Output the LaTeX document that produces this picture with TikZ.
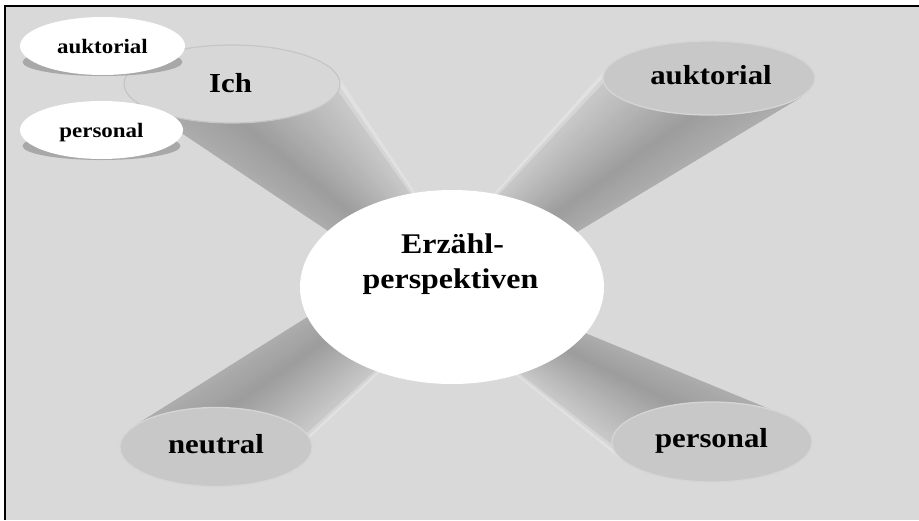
\documentclass[tikz,border=0pt]{standalone}
\usepackage{fontspec}
\newfontfamily\lblfont{Liberation Serif}[FakeStretch=1.12]
\usetikzlibrary{shapes.geometric,calc}

\definecolor{bggray}{RGB}{217,217,217}
\definecolor{discgray}{RGB}{200,200,200}
\definecolor{discrim}{RGB}{213,213,213}
\definecolor{ichfill}{RGB}{215,215,215}
\definecolor{ichrim}{RGB}{198,198,198}
\definecolor{shadowgray}{RGB}{168,168,168}

\newcommand\tubestrips[4]{%
  \foreach \k in {0,...,39}{
    \pgfmathsetmacro{\sa}{\k/40}
    \pgfmathsetmacro{\sb}{(\k+1)/40}
    \pgfmathsetmacro{\sm}{(\k+0.5)/40}
    \pgfmathtruncatemacro{\gv}{\sm<0.06 ? 232-500*\sm : (\sm<0.65 ? 200-72*(\sm-0.06) : 157+45*(\sm-0.65))}
    \definecolor{stripc}{RGB}{\gv,\gv,\gv}
    \path[fill=stripc,draw=stripc,line width=0.5pt]
      ($(#1)!\sa!(#2)$) -- ($(#1)!\sb!(#2)$) -- ($(#3)!\sb!(#4)$) -- ($(#3)!\sa!(#4)$) -- cycle;
  }}

\tikzset{
  disc/.style={ellipse, inner sep=0pt, fill=discgray, draw=discrim, line width=1.3pt},
  ichdisc/.style={ellipse, inner sep=0pt, fill=ichfill, draw=ichrim, line width=1.2pt},
  centre/.style={ellipse, inner sep=0pt, fill=white},
  smalldisc/.style={ellipse, inner sep=0pt, fill=white},
  smallshadow/.style={ellipse, inner sep=0pt, fill=shadowgray},
  bigtxt/.style={font={\lblfont\bfseries\fontsize{27.5}{33}\selectfont}, inner sep=0pt, anchor=base},
  midtxt/.style={font={\lblfont\bfseries\fontsize{28.5}{34}\selectfont}, inner sep=0pt, anchor=base},
  smalltxt/.style={font={\lblfont\bfseries\fontsize{20.5}{25}\selectfont}, inner sep=0pt, anchor=base}
}

\begin{document}
\begin{tikzpicture}[x=1pt,y=-1pt]
\useasboundingbox (0,0) rectangle (919,520);
\fill[white] (0,0) rectangle (919,520);
\fill[bggray] (5,6) rectangle (919,520);
\draw[line width=2pt] (5,520) -- (5,6) -- (919,6);

% tube end points
\coordinate (t1oa) at (337,75);   \coordinate (t1ob) at (137,103);
\coordinate (t1ia) at (434.5,222); \coordinate (t1ib) at (360,252);
\coordinate (t2oa) at (608,67);   \coordinate (t2ob) at (801,97);
\coordinate (t2ia) at (475,215);  \coordinate (t2ib) at (545,251);
\coordinate (t3oa) at (286,460);  \coordinate (t3ob) at (136,425);
\coordinate (t3ia) at (400,353);  \coordinate (t3ib) at (335,300);
\coordinate (t4oa) at (622,460);  \coordinate (t4ob) at (781,414);
\coordinate (t4ia) at (500,362);  \coordinate (t4ib) at (560,323);

\tubestrips{t1oa}{t1ob}{t1ia}{t1ib}
\tubestrips{t2oa}{t2ob}{t2ia}{t2ib}
\tubestrips{t3oa}{t3ob}{t3ia}{t3ib}
\tubestrips{t4oa}{t4ob}{t4ia}{t4ib}

% outer discs
\node[ichdisc, minimum width=216, minimum height=78] (ich) at (232,84) {};
\node[disc, minimum width=212, minimum height=74] (auk) at (709,78) {};
\node[disc, minimum width=192, minimum height=79] (neu) at (216,447) {};
\node[disc, minimum width=200, minimum height=80] (per) at (712,442) {};

% centre
\node[centre, minimum width=304, minimum height=194] (ctr) at (452,287) {};

% small discs
\node[smallshadow, minimum width=160, minimum height=28] (sauks) at (102.5,62) {};
\node[smalldisc, minimum width=165, minimum height=58] (sauk) at (102.5,46) {};
\node[smallshadow, minimum width=158, minimum height=28] (spers) at (101.5,146) {};
\node[smalldisc, minimum width=163, minimum height=58] (sper) at (101.5,130) {};

% texts
\node[bigtxt] (ichl) at (230.5,92) {Ich};
\node[bigtxt] (aukl) at (711,84) {auktorial};
\node[bigtxt] (neul) at (216,453) {neutral};
\node[bigtxt] (perl) at (711.5,447) {personal};
\node[midtxt] (ctl1) at (452.5,253) {Erzähl-};
\node[midtxt] (ctl2) at (450.5,288) {perspektiven};
\node[smalltxt] (saukl) at (102.5,53) {auktorial};
\node[smalltxt] (sperl) at (101.5,137) {personal};
\end{tikzpicture}
\end{document}
